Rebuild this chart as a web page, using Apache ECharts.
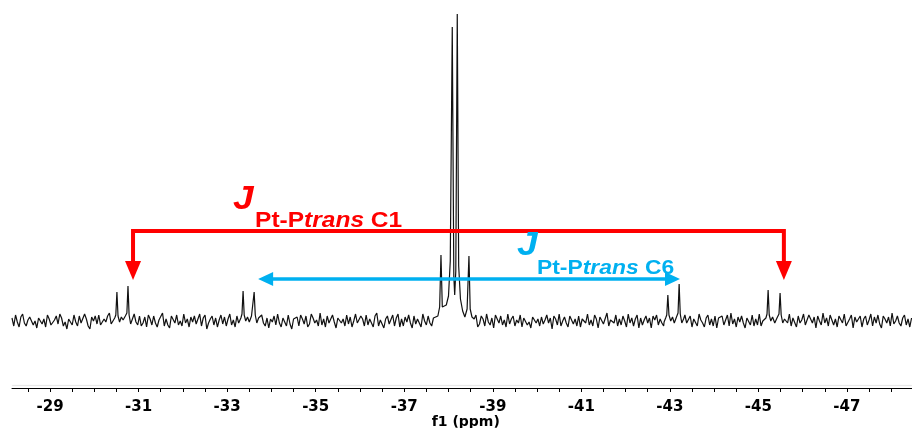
<!DOCTYPE html>
<html><head><meta charset="utf-8">
<script src="https://cdn.jsdelivr.net/npm/echarts@6/dist/echarts.min.js"></script>
<style>html,body{margin:0;padding:0;background:#fff}#c{width:912px;height:428px}</style>
</head><body><div id="c"></div>
<script>
// ---- data (ppm, intensity in arbitrary units; baseline = 0) ----
const ppmStart = -28.14;
const ppmStep = 0.04;
const noise = [
3,-5,6,-1,-6,4,7,-2,-5,1,4,6,-4,0,-7,3,5,-3,2,-6,
6,2,-4,-6,1,5,-3,7,3,-5,-1,-8,2,4,-4,6,-1,-5,5,-2,
-4,7,2,-5,-8,4,0,5,-3,6,-4,-6,2,-1,5,8,-3,-2,-6,3,
1,-5,6,3,-2,5,-7,-3,2,7,-1,-4,5,-5,-2,4,-6,6,2,-4,
5,-2,-6,1,3,8,-5,2,-4,-7,5,3,-2,6,-4,0,-5,7,-2,2,
-6,4,-1,5,-3,-2,7,-5,3,6,-8,-2,2,5,-4,3,-6,1,6,-3,
4,-5,2,7,-4,1,-6,5,-2,3,8,-4,-5,2,-2,6,-7,3,-1,-4,
5,6,-2,-5,3,-7,2,-1,5,-4,7,-2,-6,3,1,-5,6,-3,-8,2,
0,4,-5,6,2,-3,5,-6,-3,7,3,-2,1,-5,8,-4,2,-6,5,-2,
-4,6,-1,-7,3,5,-2,2,-5,6,-3,4,-6,0,7,-2,-4,5,2,-5,
6,-4,2,-2,-6,5,8,-5,1,3,-7,2,5,-3,-2,6,-5,3,7,-6,
2,-5,4,-1,6,-2,-7,5,-3,2,4,-6,7,0,-4,5,-2,-5,3,6,
-2,5,-8,3,2,-4,6,1,-5,7,-2,4,-6,2,5,-3,-2,8,-5,0,
4,-2,6,-6,-3,5,2,-5,7,-1,-4,3,-7,6,2,-2,5,-4,1,-6,
7,-3,2,5,-5,1,-2,6,-6,3,5,-4,-1,-7,4,6,-2,2,-5,4,
-3,1,6,-2,3,-8,5,2,-4,7,-5,0,4,-2,-6,5,6,-3,2,-5,
5,-6,2,4,-2,7,-4,1,-5,6,2,-7,4,5,-3,-2,8,-5,1,3,
-2,6,-5,2,-4,5,0,-6,7,-2,3,-5,2,6,-7,3,-4,1,5,-2,
3,-7,5,1,6,-4,2,-2,-5,8,-3,4,-6,2,5,-2,-4,7,-5,0,
6,-2,-4,5,-6,2,4,-5,7,1,-2,-6,3,6,-4,2,-5,5,-7,3,
1,5,-4,-2,6,-5,8,-3,2,-6,4,-1,5,-2,-7,3,2,-4,6,-5,
2,-4,7,-5,0,4,-2,-6,5,2,-3,6,-8,3,1,5,-5,2,-2,7,
-5,3,2,-6,5,-2,1,7,-4,-5,6,2,-2,4,-7,5,0,-4,8,-2,
3,-5,6,1,-4,2,-6,5,3,-2,7,-5,-3,2,6,-7,4,-1,-2,5,
-6,2,5,-4,1,7,-5,4,-2,6,-3,-7,5,2,-2,4,-5,8,-3,0,
5,-2,-5,3,6,-4,2,-6,3
];
// multiplets: [ppm, intensity]
const satelliteC1a = [[-30.42,-2],[-30.46,3],[-30.485,6],[-30.51,29],[-30.535,5],[-30.57,-1],[-30.61,4],[-30.65,1],[-30.70,5],[-30.735,8],[-30.76,35],[-30.785,6],[-30.82,-3],[-30.86,2]];
const satelliteC6a = [[-33.27,-1],[-33.31,3],[-33.335,7],[-33.36,30],[-33.385,6],[-33.42,0],[-33.46,4],[-33.50,-1],[-33.55,5],[-33.585,7],[-33.61,29],[-33.635,6],[-33.67,-2],[-33.71,3]];
const centralSignal = [[-37.70,2],[-37.76,5],[-37.80,14],[-37.83,66],[-37.86,14],[-37.90,12],[-37.95,16],[-38.00,25],[-38.04,60],[-38.085,294],[-38.12,45],[-38.14,26],[-38.165,50],[-38.198,307],[-38.23,55],[-38.27,22],[-38.32,10],[-38.37,4],[-38.42,12],[-38.462,65],[-38.49,12],[-38.53,4],[-38.58,2]];
const satelliteC6b = [[-42.87,-1],[-42.905,3],[-42.93,6],[-42.955,26],[-42.98,6],[-43.02,0],[-43.06,4],[-43.10,-2],[-43.15,4],[-43.185,8],[-43.21,37],[-43.235,7],[-43.27,-2],[-43.31,2]];
const satelliteC1b = [[-45.13,-1],[-45.17,3],[-45.195,7],[-45.22,31],[-45.245,6],[-45.28,0],[-45.32,4],[-45.37,-2],[-45.42,3],[-45.465,7],[-45.49,28],[-45.515,6],[-45.55,-2],[-45.59,2]];
const tickValues = [-28.5,-29,-29.5,-30,-30.5,-31,-31.5,-32,-32.5,-33,-33.5,-34,-34.5,-35,-35.5,-36,-36.5,-37,-37.5,-38,-38.5,-39,-39.5,-40,-40.5,-41,-41.5,-42,-42.5,-43,-43.5,-44,-44.5,-45,-45.5,-46,-46.5,-47,-47.5,-48];
const labelValues = [-29,-31,-33,-35,-37,-39,-41,-43,-45,-47];
const axisTitle = 'f1 (ppm)';
const xMin = -48.47, xMax = -28.14;
const yMin = -67, yMax = 321;
// annotations (data units)
const redBracket = { left: -30.874, right: -45.576, level: 90, tip: 41 };
const blueArrow = { from: -33.70, to: -43.23, level: 42 };
const redJ = [-33.133, 121.5], redSub = [-33.63, 100.5];
const blueJ = [-39.547, 75.5], blueSub = [-39.998, 52.5];
const titleAnchor = [-38.39, -101]; // centre of the axis title

// ---- build series ----
const regions = [satelliteC1a, satelliteC6a, centralSignal, satelliteC6b, satelliteC1b];
const pts = [];
noise.forEach((v, i) => {
  const x = +(ppmStart - i * ppmStep).toFixed(3);
  if (!regions.some(r => x <= r[0][0] && x >= r[r.length - 1][0])) pts.push([x, v]);
});
regions.forEach(r => r.forEach(p => pts.push(p)));
pts.sort((a, b) => b[0] - a[0]);

const chart = echarts.init(document.getElementById('c'), null, { renderer: 'canvas' });
chart.setOption({
  backgroundColor: '#fff',
  animation: false,
  grid: { left: 12, right: 0, top: 0, bottom: 40, containLabel: false, outerBoundsMode: 'none' },
  xAxis: {
    type: 'value', inverse: true, min: xMin, max: xMax,
    axisLine: { show: true, onZero: false, lineStyle: { color: '#000', width: 1, shadowColor: '#e2e2e2', shadowOffsetY: -3, shadowBlur: 1 } },
    axisTick: { show: true, length: 4, lineStyle: { color: '#000', width: 1 }, customValues: tickValues },
    axisLabel: { customValues: labelValues, margin: 12, fontFamily: 'DejaVu Sans', fontWeight: 'bold', fontSize: 15, color: '#000', formatter: v => String(v) },
    splitLine: { show: false }
  },
  yAxis: { type: 'value', min: yMin, max: yMax, show: false, splitLine: { show: false } },
  series: [{
    type: 'line', data: pts, showSymbol: false, symbol: 'none', sampling: null,
    lineStyle: { color: '#111', width: 1.2 }, clip: true
  }]
});

const px = p => chart.convertToPixel({ gridIndex: 0 }, p);
const RED = '#ff0000', BLUE = '#00b0f0';
const g = [];
// axis title
{
  const t = px(titleAnchor);
  g.push({ type: 'text', z: 50, x: t[0], y: t[1], style: { text: axisTitle, fill: '#000', font: 'bold 14px "DejaVu Sans"', align: 'center', verticalAlign: 'middle' } });
}
// red bracket
{
  const L = px([redBracket.left, redBracket.level]), R = px([redBracket.right, redBracket.level]);
  const tipY = px([redBracket.left, redBracket.tip])[1];
  const hl = 19, hw = 8;
  g.push({ type: 'polyline', z: 100, shape: { points: [[L[0], tipY - hl], [L[0], L[1]], [R[0], R[1]], [R[0], tipY - hl]] },
    style: { stroke: RED, lineWidth: 4, fill: null, lineJoin: 'miter' } });
  [L[0], R[0]].forEach(x => g.push({ type: 'polygon', z: 100, shape: { points: [[x - hw, tipY - hl], [x + hw, tipY - hl], [x, tipY]] }, style: { fill: RED } }));
}
// blue double arrow
{
  const A = px([blueArrow.from, blueArrow.level]), B = px([blueArrow.to, blueArrow.level]);
  const hl = 15, hw = 7;
  g.push({ type: 'line', z: 100, shape: { x1: A[0] + hl - 1, y1: A[1], x2: B[0] - hl + 1, y2: B[1] }, style: { stroke: BLUE, lineWidth: 3.5 } });
  g.push({ type: 'polygon', z: 100, shape: { points: [[A[0], A[1]], [A[0] + hl, A[1] - hw], [A[0] + hl, A[1] + hw]] }, style: { fill: BLUE } });
  g.push({ type: 'polygon', z: 100, shape: { points: [[B[0], B[1]], [B[0] - hl, B[1] - hw], [B[0] - hl, B[1] + hw]] }, style: { fill: BLUE } });
}
function label(anchorJ, anchorSub, color, tag, subSize, sx) {
  const j = px(anchorJ), s = px(anchorSub);
  g.push({ type: 'text', z: 101, x: j[0], y: j[1], scaleX: sx, style: { text: 'J', fill: color, font: 'italic bold 34px "Liberation Sans", Arial, sans-serif', align: 'left', verticalAlign: 'middle' } });
  const base = { fill: color, fontSize: subSize, fontWeight: 'bold', fontFamily: '"Liberation Sans", Arial, sans-serif' };
  g.push({ type: 'text', z: 101, x: s[0], y: s[1], scaleX: sx, style: { text: '{n|Pt-P}{i|trans}{n| ' + tag + '}', align: 'left', verticalAlign: 'middle',
    rich: { n: Object.assign({}, base), i: Object.assign({ fontStyle: 'italic' }, base) } } });
}
label(redJ, redSub, RED, 'C1', 22.5, 1.09);
label(blueJ, blueSub, BLUE, 'C6', 21, 1.09);
chart.setOption({ graphic: g });
</script>
</body></html>
